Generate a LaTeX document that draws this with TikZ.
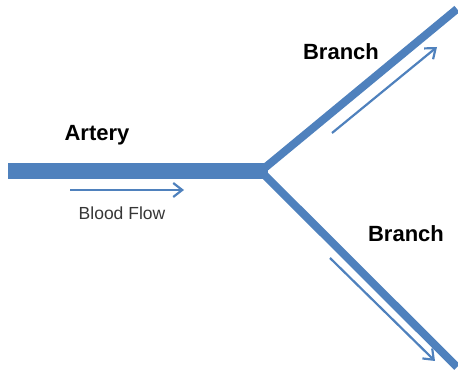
\documentclass[tikz,border=0pt]{standalone}
\usepackage{fontspec}
\setmainfont{Liberation Sans}
\usetikzlibrary{arrows.meta}
\definecolor{vessel}{HTML}{4F81BD}
\definecolor{flowtxt}{HTML}{363636}
\begin{document}
\begin{tikzpicture}[x=1pt,y=-1pt,
  vesselline/.style={draw=vessel,line cap=butt},
  flowarrow/.style={draw=vessel,line width=2.2pt,-{Straight Barb[length=9pt,width=14pt,line width=2.2pt]}},
  title/.style={font=\fontsize{22}{26}\selectfont\bfseries,text=black,inner sep=0pt},
  flowlabel/.style={font=\fontsize{17.5}{20}\selectfont,text=flowtxt,inner sep=0pt}]
\useasboundingbox (0,0) rectangle (458,371);
% vessel points
\coordinate (aL) at (8,171.5);
\coordinate (J) at (268,171.5);
\coordinate (bU) at (457,9);
\coordinate (bD) at (457,367);
\draw[vesselline,line width=16pt] (aL) -- (J);
\draw[vesselline,line width=8pt] ([xshift=-4pt,yshift=3pt]J) -- (bU);
\draw[vesselline,line width=8pt] ([xshift=-4pt,yshift=-3pt]J) -- (bD);
% flow arrows
\coordinate (f1s) at (70,190);
\coordinate (f1e) at (184,190);
\coordinate (f2s) at (332,133);
\coordinate (f2e) at (437,47);
\coordinate (f3s) at (330,258);
\coordinate (f3e) at (435,361);
\draw[flowarrow] (f1s) -- (f1e);
\draw[flowarrow] (f2s) -- (f2e);
\draw[flowarrow] (f3s) -- (f3e);
% labels
\node[title] (artery) at (97,135) {Artery};
\node[title] (branchU) at (341,52) {Branch};
\node[title] (branchD) at (406,234) {Branch};
\node[flowlabel] (flow) at (122,213) {Blood Flow};
\end{tikzpicture}
\end{document}
